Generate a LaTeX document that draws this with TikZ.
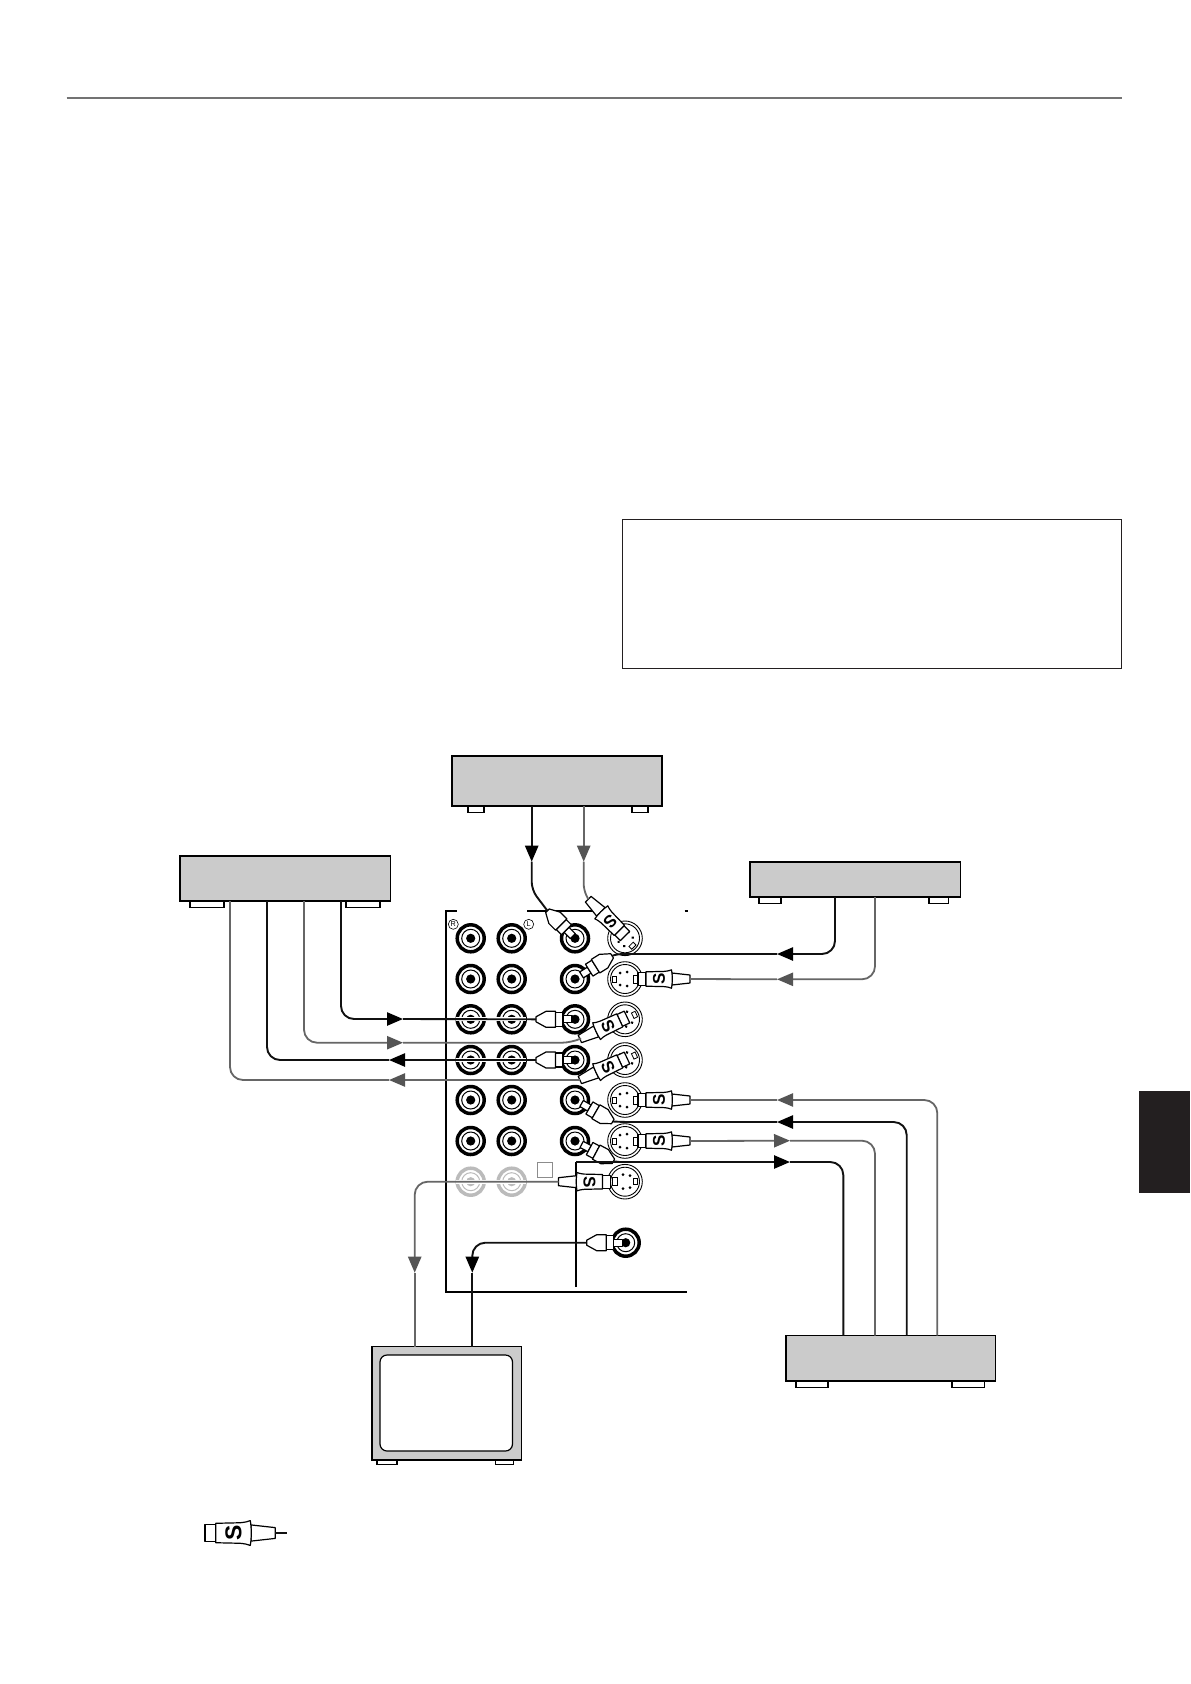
\documentclass[tikz,border=0pt]{standalone}
\usepackage{fontspec}
\setmainfont{Liberation Sans}
\usetikzlibrary{arrows.meta,fit,calc}
\definecolor{devgray}{HTML}{CBCBCB}
\definecolor{wiregray}{HTML}{666666}
\definecolor{headgray}{HTML}{555555}
\definecolor{wireblack}{HTML}{111111}
\definecolor{dimjack}{HTML}{BBBBBB}
\definecolor{tabblack}{HTML}{231F20}
\tikzset{
  dev/.style={draw=black,fill=devgray,line width=0.8pt,inner sep=0pt,outer sep=0pt},
  foot/.style={draw=black,fill=white,line width=0.6pt},
  bw/.style={draw=wireblack,line width=0.95pt,rounded corners=6.5pt},
  gw/.style={draw=wiregray,line width=0.9pt,rounded corners=6.5pt},
  btip/.style={-{Triangle[length=8pt,width=6.6pt,color=black,fill=black]}},
  gtip/.style={-{Triangle[length=8pt,width=6.6pt,color=headgray,fill=headgray]}},
  bh/.style={bw,btip},
  gh/.style={gw,gtip},
  panel/.style={draw=black,line width=0.85pt},
  plugp/.style={draw=black,fill=white,line width=0.6pt,line join=round},
  halo/.style={draw=white,line width=2pt},
}
% device box with feet: name x0 y0 x1 y1 foot1x0 foot1x1 foot2x0 foot2x1
\newcommand\device[9]{%
  \coordinate (#1a) at (#2,#3);\coordinate (#1b) at (#4,#5);
  \draw[foot] (#6,#5) rectangle (#7,#5+6.5);
  \draw[foot] (#8,#5) rectangle (#9,#5+6.5);
  \node[dev,fit=(#1a)(#1b)] (#1) {};
  \draw[black,line width=1.1pt] (#2,#5) -- (#4,#5);
}
\newcommand\jack[3]{%
  \begin{scope}[shift={(#1,#2)}]
    \draw[#3,line width=1.75pt] (0,0) circle[radius=13.5];
    \draw[#3,line width=0.5pt] (0,0) circle[radius=9];
    \fill[#3] (0,0) circle[radius=4.6];
  \end{scope}}
\newcommand\sjack[3]{%
  \begin{scope}[shift={(#1,#2)},rotate=#3]
    \draw[black,fill=white,line width=0.45pt] (0,0) circle[radius=17.3];
    \draw[black,line width=0.45pt] (0,0) circle[radius=14.5];
    \draw[black,line width=0.4pt] (-12.5,-3) rectangle (-8.5,3);
    \draw[black,line width=0.4pt] (8,-4) rectangle (13,4);
    \foreach \p/\q in {-5/-6,2/-7,-5/6,2/7}{\fill[black] (\p,\q) circle[radius=1.5];}
  \end{scope}}
% S plug: name, tip x, tip y, angle, scale
\newcommand\splug[5]{%
  \begin{scope}[shift={(#2,#3)},rotate=#4,scale=#5]
    \draw[plugp] (0,-6.5) rectangle (8,6.5);
    \draw[plugp] (34,-6) -- (52,-4) -- (52,4) -- (34,6) -- cycle;
    \draw[plugp] (8,-7.2) -- (26,-7.6) .. controls (30,-8) and (32,-8.5) .. (33.5,-9.2)
      .. controls (34.5,-5) and (34.5,5) .. (33.5,9.2)
      .. controls (32,8.5) and (30,8) .. (26,7.6) -- (8,7.2) -- cycle;
    \node[rotate=90,transform shape,inner sep=0pt,font=\fontsize{8.5}{8.5}\selectfont\bfseries] (#1t) at (21,0) {S};
    \coordinate (#1) at (52,0);
  \end{scope}}
% RCA plug: name, origin x, y, angle
\newcommand\rplug[4]{%
  \begin{scope}[shift={(#2,#3)},rotate=#4]
    \draw[plugp] (3,-3.5) rectangle (12,3.5);
    \draw[plugp] (12,-7) rectangle (19.5,7);
    \draw[plugp] (19.5,-8) -- (29,-8) -- (39,-2.5) -- (39,2.5) -- (29,8) -- (19.5,8) -- cycle;
    \coordinate (#1) at (39,0);
  \end{scope}}
\begin{document}
\begin{tikzpicture}[x=0.5pt,y=-0.5pt]
\fill[white] (0,0) rectangle (1190,1684);
\useasboundingbox (0,0) rectangle (1190,1684);
% page furniture
\draw[draw=black!55,line width=0.75pt] (66.5,98) -- (1121.5,98);
\node[draw=tabblack,line width=0.45pt,inner sep=0pt,fit={(622,519)(1121,668)}] (notebox) {};
\fill[tabblack] (1139,1091) rectangle (1190,1193);
% devices
\device{topdev}{452}{756}{662}{806}{468}{484}{632}{648}
\device{leftdev}{180}{856}{390.5}{901}{190}{224}{346}{380}
\device{rightdev}{750}{862}{960.5}{897}{759}{781}{929}{948.5}
\device{botdev}{786}{1335.5}{995.5}{1381}{796}{828}{952}{984.5}
% tv
\draw[foot] (377,1460) rectangle (397,1464.5);
\draw[foot] (495.5,1460) rectangle (513.5,1464.5);
\coordinate (tva) at (372,1346.5);\coordinate (tvb) at (521.5,1460);
\node[dev,fit=(tva)(tvb)] (tv) {};
\draw[black,fill=white,line width=0.6pt,rounded corners=3.5pt] (380,1355) rectangle (512.5,1451);
% panel
\draw[panel] (456.5,911) -- (446,911) -- (446,1291.7) -- (686.5,1291.7);
\draw[panel] (527,911) -- (597,911);
\draw[panel] (684.5,911) -- (687.5,911);
\draw[panel] (576,1287) -- (576,1162);
\draw[draw=black!45,line width=0.4pt] (537,1162) rectangle (552,1177);
% jacks
\foreach \y in {938.3,979,1019.3,1060,1100,1141}{
  \jack{470.7}{\y}{black}\jack{511.7}{\y}{black}\jack{575}{\y}{black}}
\jack{470.7}{1181.7}{dimjack}\jack{511.7}{1181.7}{dimjack}
\jack{625.7}{1242.7}{black}
\sjack{625}{938.3}{135}\sjack{625}{979}{0}\sjack{625}{1019.3}{205}
\sjack{625}{1060}{205}\sjack{625}{1100}{0}\sjack{625}{1141}{0}\sjack{625}{1181.7}{180}
% R L
\node[draw=black,line width=0.3pt,circle,minimum size=5pt,inner sep=0pt,font=\fontsize{3.6}{3.6}\selectfont] (rmark) at (453.3,924.3) {R};
\node[draw=black,line width=0.3pt,circle,minimum size=5pt,inner sep=0pt,font=\fontsize{3.6}{3.6}\selectfont] (lmark) at (528.7,924.3) {L};
% halos over jacks
\draw[halo] (456,1019) -- (526,1019);
\draw[halo] (456,1060) -- (526,1060);
\draw[halo] (456,1181.7) -- (526,1181.7);
% plugs define end coordinates
\rplug{ra}{575}{938.3}{135}
\rplug{rb}{579}{976.5}{32}
\rplug{rc}{575}{1019.3}{180}
\rplug{rd}{575}{1060}{180}
\rplug{re}{579}{1102}{-30}
\rplug{rf}{579}{1143}{-28}
\rplug{rg}{625.7}{1242.7}{180}
\splug{sa}{625}{936}{135}{1}
\splug{sb}{638}{979}{0}{1}
\splug{sc}{627}{1017}{205}{1}
\splug{sd}{627}{1058}{205}{1}
\splug{se}{638}{1100}{0}{1}
\splug{sf}{638}{1141}{0}{1}
\splug{sg}{610.5}{1181.7}{180}{1}
\splug{slegend}{205}{1533}{0}{1.35}
\draw[bw] (slegend) -- ++(11.7,0);
% arrow waypoints
\coordinate (a1) at (531.7,861.7);\coordinate (a2) at (583.7,861.7);
\coordinate (a3) at (777,954);\coordinate (a4) at (777,979.3);
\coordinate (a5) at (403,1019);\coordinate (a6) at (403,1042.7);
\coordinate (a7) at (389,1060);\coordinate (a8) at (389,1080);
\coordinate (a9) at (777,1100);\coordinate (a10) at (777,1122);
\coordinate (a11) at (790,1140.7);\coordinate (a12) at (790,1162);
\coordinate (a13) at (414.7,1272.7);\coordinate (a14) at (472.3,1272.7);
% top device
\draw[bh] (topdev.south -| a1) -- (a1);
\draw[bw,rounded corners=4pt] (a1) -- (531.7,890) -- (ra);
\draw[gh] (topdev.south -| a2) -- (a2);
\draw[gw,rounded corners=3pt] (a2) -- (583.7,890) -- (sa);
% right device
\draw[bh] (rightdev.south -| 835,0) -- (835,954) -- (a3);
\draw[bw,rounded corners=2pt] (a3) -- (618,954) -- (rb);
\draw[gh] (rightdev.south -| 875,0) -- (875,979.3) -- (a4);
\draw[gw] (a4) -- (sb);
% left device
\draw[bh] (leftdev.south -| 341,0) -- (341,1019) -- (a5);
\draw[bw] (a5) -- (rc);
\draw[gh] (leftdev.south -| 304,0) -- (304,1042.7) -- (a6);
\draw[gw,rounded corners=5pt] (a6) -- (572,1042.7) -- (sc);
\draw[bw,btip] (rd) -- (a7);
\draw[bw] (a7) -- (267,1060) -- (leftdev.south -| 267,0);
\draw[gw,gtip] (sd) -- (a8);
\draw[gw] (a8) -- (230,1080) -- (leftdev.south -| 230,0);
% bottom device
\draw[gh] (botdev.north -| 937.3,0) -- (937.3,1100) -- (a9);
\draw[gw] (a9) -- (se);
\draw[bh] (botdev.north -| 906.7,0) -- (906.7,1122) -- (a10);
\draw[bw,rounded corners=2pt] (a10) -- (625,1122) -- (re);
\draw[gw,gtip] (sf) -- (a11);
\draw[gw] (a11) -- (875,1140.7) -- (botdev.north -| 875,0);
\draw[bw,sharp corners,btip] (576,1162) -- (a12);
\draw[bw] (a12) -- (843.3,1162) -- (botdev.north -| 843.3,0);
\draw[bw,sharp corners] (rf) -- (620,1162);
% tv wires
\draw[gw,gtip] (sg) -- (414.7,1181.7) -- (a13);
\draw[gw] (a13) -- (tv.north -| a13);
\draw[bw,btip] (rg) -- (472.3,1242.7) -- (a14);
\draw[bw] (a14) -- (tv.north -| a14);
\end{tikzpicture}
\end{document}
